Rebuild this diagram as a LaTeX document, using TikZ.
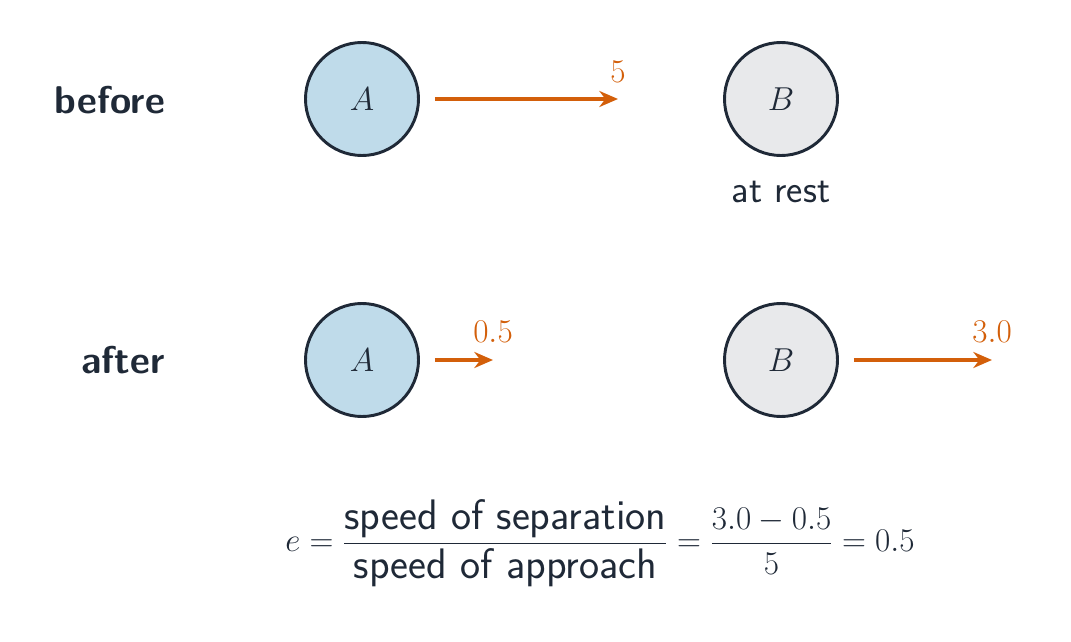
\documentclass[tikz,border=0pt]{standalone}
\usepackage{amsmath}
\usetikzlibrary{arrows.meta}
\definecolor{ink}{HTML}{1F2937}
\definecolor{fa}{HTML}{BFDBEA}
\definecolor{fb}{HTML}{E8E9EB}
\definecolor{org}{HTML}{D35F0A}
\begin{document}
\begin{tikzpicture}[x=0.75pt,y=-0.75pt,
  ball/.style={circle,draw=ink,line width=2.2pt,minimum size=113*0.75pt,inner sep=0pt,font=\fontsize{30}{36}\selectfont,text=ink},
  vel/.style={draw=org,line width=2.6pt,-{Stealth[length=14pt,width=12pt]}},
  vlab/.style={text=org,font=\fontsize{30}{36}\selectfont,inner sep=0pt},
  lab/.style={text=ink,font=\sffamily\bfseries\fontsize{29}{34}\selectfont,anchor=east,inner sep=0pt}]
\useasboundingbox (0,0) rectangle (1071,642);
\node[lab] (bef) at (165,100) {before};
\node[lab] (aft) at (165,360) {after};
\node[ball,fill=fa] (A1) at (362,99) {$A$};
\node[ball,fill=fb] (B1) at (781,99) {$B$};
\node[ball,fill=fa] (A2) at (362,360) {$A$};
\node[ball,fill=fb] (B2) at (781,360) {$B$};
\coordinate (e1) at (618,99);
\coordinate (e2) at (493,360);
\coordinate (e3) at (992,360);
\draw[vel] (A1.east)++(15,0) coordinate (s1) (s1) -- (e1);
\draw[vel] (A2.east)++(15,0) coordinate (s2) (s2) -- (e2);
\draw[vel] (B2.east)++(15,0) coordinate (s3) (s3) -- (e3);
\node[vlab] (l1) at (618,72) {$5$};
\node[vlab] (l2) at (493,332) {$0.5$};
\node[vlab] (l3) at (992,332) {$3.0$};
\node[text=ink,font=\sffamily\fontsize{29}{34}\selectfont] (rest) at (781,192) {at rest};
\node[text=ink,font=\fontsize{32}{38}\selectfont] (eq) at (600,543)
 {$e=\dfrac{\text{\sffamily speed of separation}}{\text{\sffamily speed of approach}}=\dfrac{3.0-0.5}{5}=0.5$};
\end{tikzpicture}
\end{document}
